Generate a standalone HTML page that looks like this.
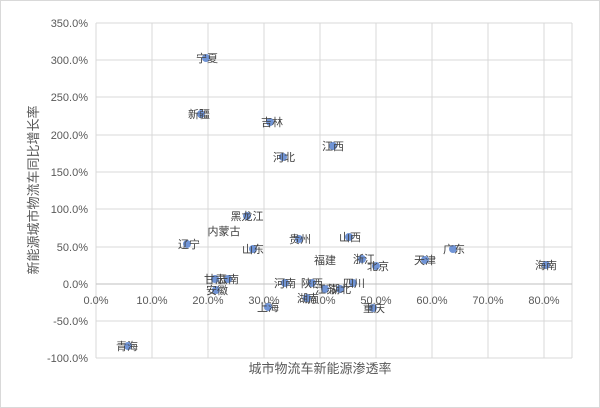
<!DOCTYPE html><html><head><meta charset="utf-8"><style>body{margin:0;background:#fff}svg{display:block;font-family:"Liberation Sans","Noto Sans CJK SC",sans-serif}</style></head><body>
<svg width="600" height="408" viewBox="0 0 600 408">
<rect x="0.5" y="0.5" width="599" height="407" fill="#fff" stroke="#d9d9d9"/>
<g stroke="#d9d9d9" stroke-width="1">
<line x1="96" y1="23" x2="572" y2="23"/><line x1="96" y1="60" x2="572" y2="60"/><line x1="96" y1="97" x2="572" y2="97"/><line x1="96" y1="135" x2="572" y2="135"/><line x1="96" y1="172" x2="572" y2="172"/><line x1="96" y1="209" x2="572" y2="209"/><line x1="96" y1="247" x2="572" y2="247"/><line x1="96" y1="321" x2="572" y2="321"/><line x1="96" y1="358" x2="572" y2="358"/>
<line x1="96" y1="23" x2="96" y2="358"/><line x1="152" y1="23" x2="152" y2="358"/><line x1="208" y1="23" x2="208" y2="358"/><line x1="264" y1="23" x2="264" y2="358"/><line x1="320" y1="23" x2="320" y2="358"/><line x1="376" y1="23" x2="376" y2="358"/><line x1="432" y1="23" x2="432" y2="358"/><line x1="488" y1="23" x2="488" y2="358"/><line x1="544" y1="23" x2="544" y2="358"/><line x1="572" y1="23" x2="572" y2="358"/>
</g>
<line x1="96" y1="284" x2="572" y2="284" stroke="#bfbfbf"/>
<g fill="#595959" font-size="11" text-anchor="end">
<text x="88" y="27">350.0%</text><text x="88" y="64">300.0%</text><text x="88" y="101">250.0%</text><text x="88" y="139">200.0%</text><text x="88" y="176">150.0%</text><text x="88" y="213">100.0%</text><text x="88" y="251">50.0%</text><text x="88" y="288">0.0%</text><text x="88" y="325">-50.0%</text><text x="88" y="362">-100.0%</text>
</g>
<g fill="#595959" font-size="11" text-anchor="middle">
<text x="96" y="304">0.0%</text><text x="152" y="304">10.0%</text><text x="208" y="304">20.0%</text><text x="264" y="304">30.0%</text><text x="320" y="304">40.0%</text><text x="376" y="304">50.0%</text><text x="432" y="304">60.0%</text><text x="488" y="304">70.0%</text><text x="544" y="304">80.0%</text>
</g>
<text x="320" y="373" font-size="13" fill="#595959" text-anchor="middle">城市物流车新能源渗透率</text>
<text transform="translate(38,190) rotate(-90)" font-size="13" fill="#595959" text-anchor="middle">新能源城市物流车同比增长率</text>
<g fill="#7094d6">
<circle cx="206" cy="58" r="4"/><circle cx="201" cy="114" r="4"/><circle cx="270" cy="122" r="4"/><circle cx="283" cy="157" r="4"/><circle cx="333" cy="146" r="4"/><circle cx="247" cy="216" r="4"/><circle cx="187" cy="244" r="4"/><circle cx="253" cy="249" r="4"/><circle cx="299" cy="239" r="4"/><circle cx="349" cy="237" r="4"/><circle cx="362" cy="259" r="4"/><circle cx="376" cy="266" r="4"/><circle cx="425" cy="260" r="4"/><circle cx="453" cy="249" r="4"/><circle cx="546" cy="265" r="4"/><circle cx="215" cy="279" r="4"/><circle cx="228" cy="279" r="4"/><circle cx="216" cy="290" r="4"/><circle cx="285" cy="283" r="4"/><circle cx="312" cy="283" r="4"/><circle cx="325" cy="289" r="4"/><circle cx="340" cy="289" r="4"/><circle cx="353" cy="283" r="4"/><circle cx="307" cy="298" r="4"/><circle cx="268" cy="307" r="4"/><circle cx="373" cy="308" r="4"/><circle cx="128" cy="346" r="4"/>
</g>
<g font-size="11" fill="#404040" text-anchor="middle">
<text x="207" y="62">宁夏</text><text x="199" y="118">新疆</text><text x="272" y="126">吉林</text><text x="284" y="161">河北</text><text x="333" y="150">江西</text><text x="247" y="220">黑龙江</text><text x="224" y="235">内蒙古</text><text x="189" y="248">辽宁</text><text x="253" y="253">山东</text><text x="300" y="243">贵州</text><text x="350" y="241">山西</text><text x="325" y="264">福建</text><text x="364" y="263">浙江</text><text x="378" y="270">北京</text><text x="425" y="264">天津</text><text x="454" y="253">广东</text><text x="546" y="269">海南</text><text x="215" y="283">甘肃</text><text x="228" y="283">云南</text><text x="217" y="294">安徽</text><text x="285" y="287">河南</text><text x="312" y="287">陕西</text><text x="326" y="293">江苏</text><text x="340" y="293">湖北</text><text x="354" y="287">四川</text><text x="308" y="302">湖南</text><text x="268" y="311">上海</text><text x="374" y="312">重庆</text><text x="127" y="350">青海</text>
</g>
</svg></body></html>
